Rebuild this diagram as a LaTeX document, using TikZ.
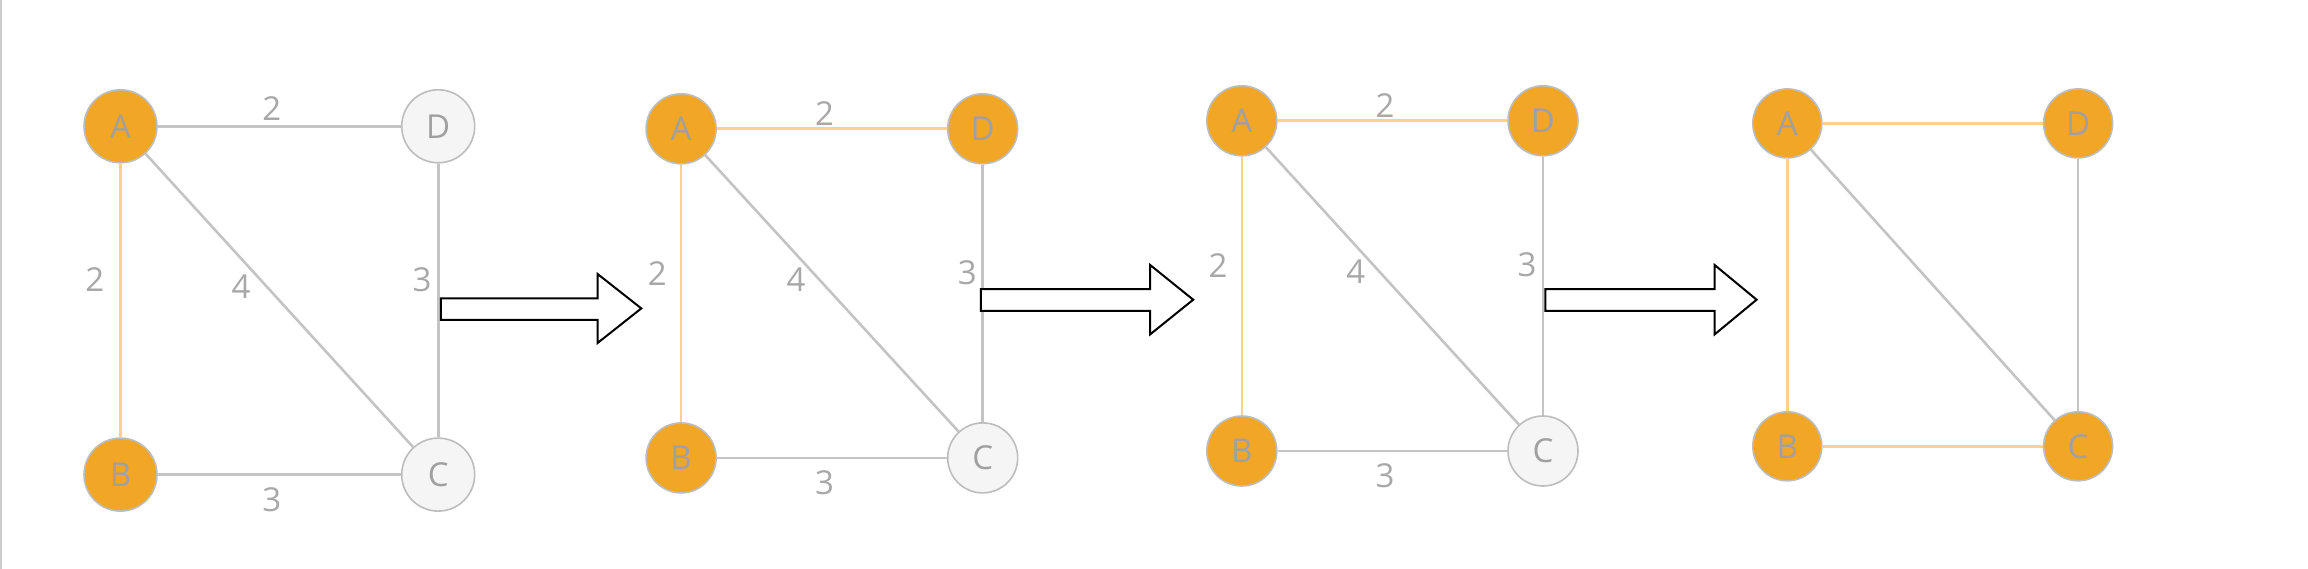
\documentclass[tikz,border=0pt]{standalone}
\usepackage{fontspec}
\setmainfont{Open Sans}
\definecolor{orangeF}{HTML}{F2A626}
\definecolor{nodeborder}{HTML}{BDBDBD}
\definecolor{nodetext}{HTML}{A0A0A0}
\definecolor{lightfill}{HTML}{F5F5F5}
\definecolor{grayedge}{HTML}{C4C4C4}
\definecolor{orangeedge}{HTML}{FDD08C}
\definecolor{labelc}{HTML}{A8A8A8}
\begin{document}
\begin{tikzpicture}[x=1pt,y=-1pt,
  gnode/.style={circle, draw=nodeborder, line width=1.6pt, text=nodetext, inner sep=0pt,
    font=\fontsize{33}{33}\selectfont},
  vis/.style={gnode, fill=orangeF},
  unvis/.style={gnode, fill=lightfill},
  gedge/.style={draw=grayedge, line width=2.6pt},
  oedge/.style={draw=orangeedge, line width=2.6pt},
  elabel/.style={text=labelc, inner sep=0pt, font=\fontsize{33}{33}\selectfont},
  blockarrow/.style={draw=black, fill=white, line width=2pt, line join=miter}
]
\useasboundingbox (0,0) rectangle (2308,569);
\fill[white] (0,0) rectangle (2308,569);
\draw[draw=black!20, line width=2pt] (1,0) -- (1,569);

% ---------- graph 1 ----------
\node[vis, minimum size=73pt] (A1) at (120.5,126.3) {A};
\node[unvis, minimum size=73pt] (D1) at (438.2,126.3) {D};
\node[vis, minimum size=73pt] (B1) at (120.5,474.6) {B};
\node[unvis, minimum size=73pt] (C1) at (438.2,474.6) {C};
\draw[gedge] (A1) -- (D1);
\draw[oedge] (A1) -- (B1);
\draw[gedge] (A1) -- (C1);
\draw[gedge] (D1) -- (C1);
\draw[gedge] (B1) -- (C1);
\node[elabel] (l1ad) at (271.7,108.9) {2};
\node[elabel] (l1ab) at (94.9,279.4) {2};
\node[elabel] (l1ac) at (241,286.6) {4};
\node[elabel] (l1dc) at (422,279.4) {3};
\node[elabel] (l1bc) at (271.7,500) {3};

% ---------- graph 2 ----------
\node[vis, minimum size=70pt] (A2) at (681.1,128.8) {A};
\node[vis, minimum size=70pt] (D2) at (982.7,128.8) {D};
\node[vis, minimum size=70pt] (B2) at (681.1,457.9) {B};
\node[unvis, minimum size=70pt] (C2) at (982.7,457.9) {C};
\draw[oedge] (A2) -- (D2);
\draw[oedge] (A2) -- (B2);
\draw[gedge] (A2) -- (C2);
\draw[gedge] (D2) -- (C2);
\draw[gedge] (B2) -- (C2);
\node[elabel] (l2ad) at (824.6,113.2) {2};
\node[elabel] (l2ab) at (657.4,274) {2};
\node[elabel] (l2ac) at (796,279.4) {4};
\node[elabel] (l2dc) at (967.4,272.9) {3};
\node[elabel] (l2bc) at (824.6,482.6) {3};

% ---------- graph 3 ----------
\node[vis, minimum size=70pt] (A3) at (1241.8,120.8) {A};
\node[vis, minimum size=70pt] (D3) at (1543,120.8) {D};
\node[vis, minimum size=70pt] (B3) at (1241.8,451) {B};
\node[unvis, minimum size=70pt] (C3) at (1543,451) {C};
\draw[oedge] (A3) -- (D3);
\draw[oedge] (A3) -- (B3);
\draw[gedge] (A3) -- (C3);
\draw[gedge] (D3) -- (C3);
\draw[gedge] (B3) -- (C3);
\node[elabel] (l3ad) at (1385,105.2) {2};
\node[elabel] (l3ab) at (1218.1,266) {2};
\node[elabel] (l3ac) at (1355.9,272.1) {4};
\node[elabel] (l3dc) at (1527,264.9) {3};
\node[elabel] (l3bc) at (1385,475.3) {3};

% ---------- graph 4 ----------
\node[vis, minimum size=69pt] (A4) at (1787.3,123.4) {A};
\node[vis, minimum size=69pt] (D4) at (2078.1,123.4) {D};
\node[vis, minimum size=69pt] (B4) at (1787.3,446.3) {B};
\node[vis, minimum size=69pt] (C4) at (2078.1,446.3) {C};
\draw[oedge] (A4) -- (D4);
\draw[oedge] (A4) -- (B4);
\draw[gedge] (A4) -- (C4);
\draw[gedge] (D4) -- (C4);
\draw[oedge] (B4) -- (C4);

% ---------- block arrows ----------
\draw[blockarrow] (440.9,298.3) -- (597.6,298.3) -- (597.6,274) -- (641.3,308.4)
  -- (597.6,343) -- (597.6,320) -- (440.9,320) -- cycle;
\draw[blockarrow] (980.8,289.2) -- (1150,289.2) -- (1150,264.9) -- (1193.2,299.7)
  -- (1150,334.5) -- (1150,311) -- (980.8,311) -- cycle;
\draw[blockarrow] (1545.3,289.2) -- (1714.5,289.2) -- (1714.5,264.9) -- (1756.6,299.7)
  -- (1714.5,334.5) -- (1714.5,311) -- (1545.3,311) -- cycle;
\end{tikzpicture}
\end{document}
